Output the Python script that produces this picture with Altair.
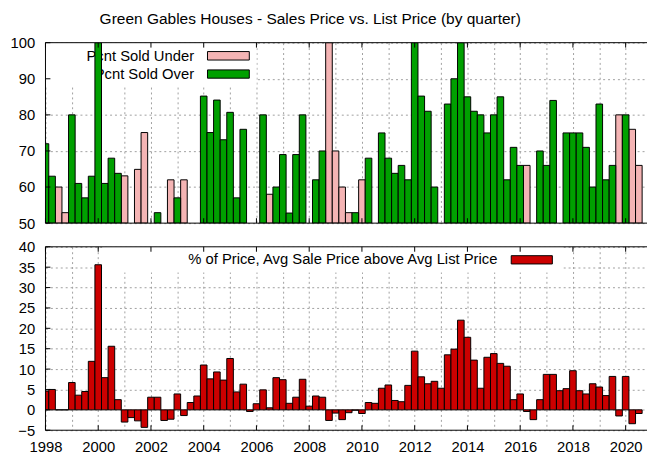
import altair as alt
import pandas as pd

# ---------------- data ----------------
quarter_start = 1998.0
quarter_count = 91
quarters = [quarter_start + i * 0.25 for i in range(quarter_count)]

pcnt_sold_under = [
    None, None, 60, 52.9, None, None, None, None, None, None,
    None, None, 63.1, None, 64.9, 75.1, None, None, None, 62,
    None, 62, None, None, None, None, None, None, None, None,
    None, None, None, None, 58, None, None, None, None, None,
    None, None, None, 100, 70, 60, 52.9, None, 62, None,
    None, None, None, None, None, None, None, None, None, None,
    None, None, None, None, None, None, None, None, None, None,
    None, None, None, 66, None, None, None, None, None, None,
    None, None, None, None, None, None, None, 80, None, 76,
    66,
]
pcnt_sold_over = [
    72, 63, None, None, 80, 61, 57, 63, 100, 61,
    68, 63.8, None, None, None, None, None, 52.9, None, None,
    57, None, None, None, 85.2, 75.1, 84.1, 73.1, 80.7, 57,
    76, None, None, 80, None, 60, 69, 52.8, 69, 80,
    None, 62, 70, None, None, None, None, 52.9, None, 68,
    None, 75, 68, 63.8, 66, 62, 100, 85.2, 81, 60,
    None, 83, 90, 100, 85, 81, 80, 75, 80, 85,
    62, 71, 66, None, None, 70, 66, 84, None, 75,
    75, 75, 71, 60, 83, 62, 66, None, 80, None,
    None,
]
pct_above_list = [
    4.6, 5.0, 0, 0, 6.7, 3.6, 4.5, 11.9, 35.6, 7.9,
    15.6, 2.5, -3.0, -1.9, -2.7, -4.3, 3.1, 3.1, -2.6, -2.3,
    3.9, -1.4, 1.8, 3.4, 11.0, 7.6, 9.3, 7.3, 12.6, 4.4,
    6.3, -0.4, 1.5, 4.9, 0.5, 7.9, 7.4, 1.6, 3.1, 7.5,
    0.9, 3.4, 3.1, -2.6, -0.8, -2.4, -0.7, -0.1, -0.9, 1.8,
    1.6, 5.3, 6.1, 2.3, 2.0, 6.0, 14.4, 8.1, 6.4, 7.0,
    5.3, 13.5, 14.9, 22.0, 17.8, 12.2, 5.3, 12.9, 13.8, 11.4,
    10.7, 2.5, 3.9, -0.4, -2.4, 2.5, 8.7, 8.7, 4.7, 5.2,
    9.6, 4.7, 3.9, 6.4, 5.6, 3.5, 8.2, -1.5, 8.2, -3.4,
    -0.9,
]

grid_years = list(range(1998, 2021))
label_years = list(range(1998, 2021, 2))
top_y_ticks = [50, 60, 70, 80, 90, 100]
bot_y_ticks = [-5, 0, 5, 10, 15, 20, 25, 30, 35, 40]

title_text = "Green Gables Houses - Sales Price vs. List Price (by quarter)"
legend_under = "Pcnt Sold Under"
legend_over = "Pcnt Sold Over"
legend_pct = "% of Price, Avg Sale Price above Avg List Price"

# ---------------- tables ----------------
df = pd.DataFrame({"t": quarters, "under": pcnt_sold_under,
                   "over": pcnt_sold_over, "pct": pct_above_list})
df["t0"] = df["t"] - 0.125
df["t1"] = df["t"] + 0.125
df_under = df[df["under"].notna()]
df_over = df[df["over"].notna()]
xt_df = pd.DataFrame({"yr": label_years})
yt_top_df = pd.DataFrame({"v": top_y_ticks})
yt_bot_df = pd.DataFrame({"v": bot_y_ticks})
one = pd.DataFrame({"k": [0]})

# ---------------- style ----------------
FONT = "Liberation Sans"
FS = 15
TFS = 15.7
GREEN = "#00a000"
PINK = "#f4b4b4"
RED = "#cc0000"
GRID = "#a0a0a0"
W = 610
HT = 183
HB = 186

xscale = alt.Scale(domain=[1998, 2020.81], nice=False, zero=False)
yscale_top = alt.Scale(domain=[50, 100], nice=False, zero=False)
yscale_bot = alt.Scale(domain=[-5, 40], nice=False, zero=False)


def xaxis(show_labels):
    return alt.Axis(values=grid_years, labels=show_labels,
                    labelExpr="datum.value % 2 == 0 ? datum.value : ''",
                    labelFlush=False, labelOverlap=False, labelFont=FONT,
                    labelFontSize=FS, labelColor="black", labelPadding=10,
                    ticks=False, tickSize=0, domain=False, grid=True,
                    gridColor=GRID, gridDash=[2, 3], title="")


def yaxis(vals):
    return alt.Axis(values=vals, format="d", labelFont=FONT, labelFontSize=FS,
                    labelColor="black", labelPadding=11, ticks=False,
                    tickSize=0, domain=False, grid=True, gridColor=GRID,
                    gridDash=[2, 3], title="")


def frame(H, xax, yscale, yax, ytick_df):
    border = alt.Chart(one).mark_rule(color="black", strokeWidth=1)
    top_b = border.encode(x=alt.value(0), x2=alt.value(W), y=alt.value(0))
    bot_b = border.encode(x=alt.value(0), x2=alt.value(W), y=alt.value(H))
    left_b = border.encode(x=alt.value(0), y=alt.value(0), y2=alt.value(H))
    tick = alt.Chart(xt_df).mark_rule(color="black", strokeWidth=1)
    xt_bot = tick.encode(x=alt.X("yr:Q", scale=xscale, axis=xax),
                         y=alt.value(H), y2=alt.value(H - 5))
    xt_top = tick.encode(x=alt.X("yr:Q", scale=xscale, axis=xax),
                         y=alt.value(0), y2=alt.value(5))
    yt = alt.Chart(ytick_df).mark_rule(color="black", strokeWidth=1).encode(
        y=alt.Y("v:Q", scale=yscale, axis=yax), x=alt.value(0), x2=alt.value(5))
    return [xt_bot, xt_top, yt, top_b, bot_b, left_b]


# ---------------- top panel ----------------
xax_top = xaxis(False)
yax_top = yaxis(top_y_ticks)

leg_bg_top = alt.Chart(one).mark_rect(fill="white").encode(
    x=alt.value(0), x2=alt.value(214), y=alt.value(0), y2=alt.value(43))
txt = alt.Chart(one).mark_text(align="right", baseline="middle", font=FONT,
                               fontSize=FS, color="black")
leg_t1 = txt.encode(x=alt.value(150.7), y=alt.value(13.3), text=alt.value(legend_under))
leg_t2 = txt.encode(x=alt.value(150.7), y=alt.value(31.8), text=alt.value(legend_over))
leg_s1 = alt.Chart(one).mark_rect(fill=PINK, stroke="black", strokeWidth=1).encode(
    x=alt.value(164.3), x2=alt.value(206.7), y=alt.value(9), y2=alt.value(17.6))
leg_s2 = alt.Chart(one).mark_rect(fill=GREEN, stroke="black", strokeWidth=1).encode(
    x=alt.value(164.3), x2=alt.value(206.7), y=alt.value(27.6), y2=alt.value(36))
title_mark = alt.Chart(one).mark_text(align="center", baseline="middle", font=FONT,
                                      fontSize=TFS, color="black").encode(
    x=alt.value(268.5), y=alt.value(-23.5), text=alt.value(title_text))

under_bars = alt.Chart(df_under).mark_rect(fill=PINK, stroke="black", strokeWidth=1,
                                           clip=True).encode(
    x=alt.X("t0:Q", scale=xscale, axis=xax_top), x2="t1:Q",
    y=alt.Y("under:Q", scale=yscale_top, axis=yax_top), y2=alt.datum(50))
over_bars = alt.Chart(df_over).mark_rect(fill=GREEN, stroke="black", strokeWidth=1,
                                         clip=True).encode(
    x=alt.X("t0:Q", scale=xscale, axis=xax_top), x2="t1:Q",
    y=alt.Y("over:Q", scale=yscale_top, axis=yax_top), y2=alt.datum(50))

top = alt.layer(
    leg_bg_top, leg_t1, leg_t2, leg_s1, leg_s2, title_mark, under_bars, over_bars,
    *frame(HT, xax_top, yscale_top, yax_top, yt_top_df)
).properties(width=W, height=HT)

# ---------------- bottom panel ----------------
xax_bot = xaxis(True)
yax_bot = yaxis(bot_y_ticks)

leg_bg_bot = alt.Chart(one).mark_rect(fill="white").encode(
    x=alt.value(58), x2=alt.value(525), y=alt.value(0), y2=alt.value(26))
leg_t3 = txt.encode(x=alt.value(458.3), y=alt.value(12.7), text=alt.value(legend_pct))
leg_s3 = alt.Chart(one).mark_rect(fill=RED, stroke="black", strokeWidth=1).encode(
    x=alt.value(472.3), x2=alt.value(514), y=alt.value(9), y2=alt.value(17.4))
pct_bars = alt.Chart(df).mark_rect(fill=RED, stroke="black", strokeWidth=1,
                                   clip=True).encode(
    x=alt.X("t0:Q", scale=xscale, axis=xax_bot), x2="t1:Q",
    y=alt.Y("pct:Q", scale=yscale_bot, axis=yax_bot), y2=alt.datum(0))

bot = alt.layer(
    leg_bg_bot, leg_t3, leg_s3, pct_bars,
    *frame(HB, xax_bot, yscale_bot, yax_bot, yt_bot_df)
).properties(width=W, height=HB)

chart = alt.vconcat(top, bot, spacing=24, bounds="flush").properties(
    padding={"left": 1, "top": 0, "right": 0, "bottom": 0}
).configure_view(strokeWidth=0)

chart.save("out.html", embed_options={"renderer": "svg", "actions": False})
